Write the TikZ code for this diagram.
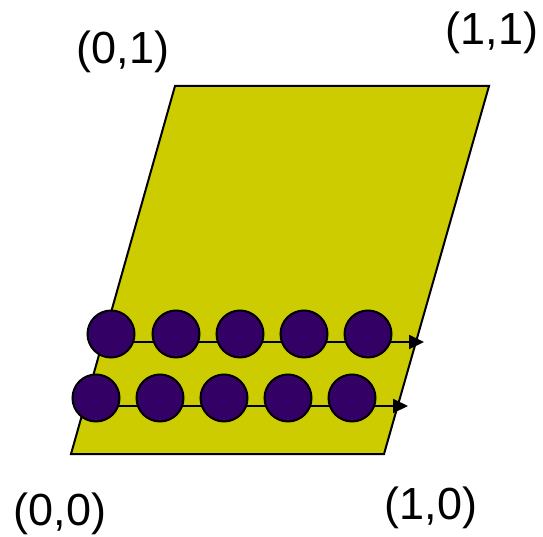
\documentclass[tikz,border=0pt]{standalone}
\usepackage{fontspec}
\setmainfont{Liberation Sans}
\usetikzlibrary{arrows.meta,backgrounds}
\definecolor{olive}{RGB}{204,204,0}
\definecolor{ball}{RGB}{51,0,102}
\tikzset{
  ballnode/.style={circle,draw=black,line width=2pt,fill=ball,minimum size=47pt,inner sep=0pt},
  lbl/.style={inner sep=0pt,font=\fontsize{45}{54}\selectfont},
  flow/.style={draw=black,line width=2pt,-{Triangle[length=15pt,width=14pt]}},
}
\begin{document}
\begin{tikzpicture}[x=1pt,y=-1pt]
\useasboundingbox (0,0) rectangle (543,537);
\coordinate (bl) at (71,454);
\coordinate (br) at (384,454);
\coordinate (tr) at (489,86);
\coordinate (tl) at (175,86);
\coordinate (e1) at (424,342);
\coordinate (e2) at (408,406);
% row 1
\node[ballnode] (a1) at (111,334) {};
\node[ballnode] (a2) at (176,334) {};
\node[ballnode] (a3) at (240,334) {};
\node[ballnode] (a4) at (304,334) {};
\node[ballnode] (a5) at (368,334) {};
% row 2
\node[ballnode] (b1) at (96,398) {};
\node[ballnode] (b2) at (160,398) {};
\node[ballnode] (b3) at (224,398) {};
\node[ballnode] (b4) at (288,398) {};
\node[ballnode] (b5) at (352,398) {};
\begin{scope}[on background layer]
  \draw[fill=olive,line width=2pt,line join=miter] (bl) -- (br) -- (tr) -- (tl) -- cycle;
  \draw[flow] (a1.center |- e1) -- (e1);
  \draw[flow] (b1.center |- e2) -- (e2);
\end{scope}
\node[lbl] (l00) at (60,514) {(0,0)};
\node[lbl] (l10) at (431,508) {(1,0)};
\node[lbl] (l01) at (123,52) {(0,1)};
\node[lbl] (l11) at (492,33) {(1,1)};
\end{tikzpicture}
\end{document}
